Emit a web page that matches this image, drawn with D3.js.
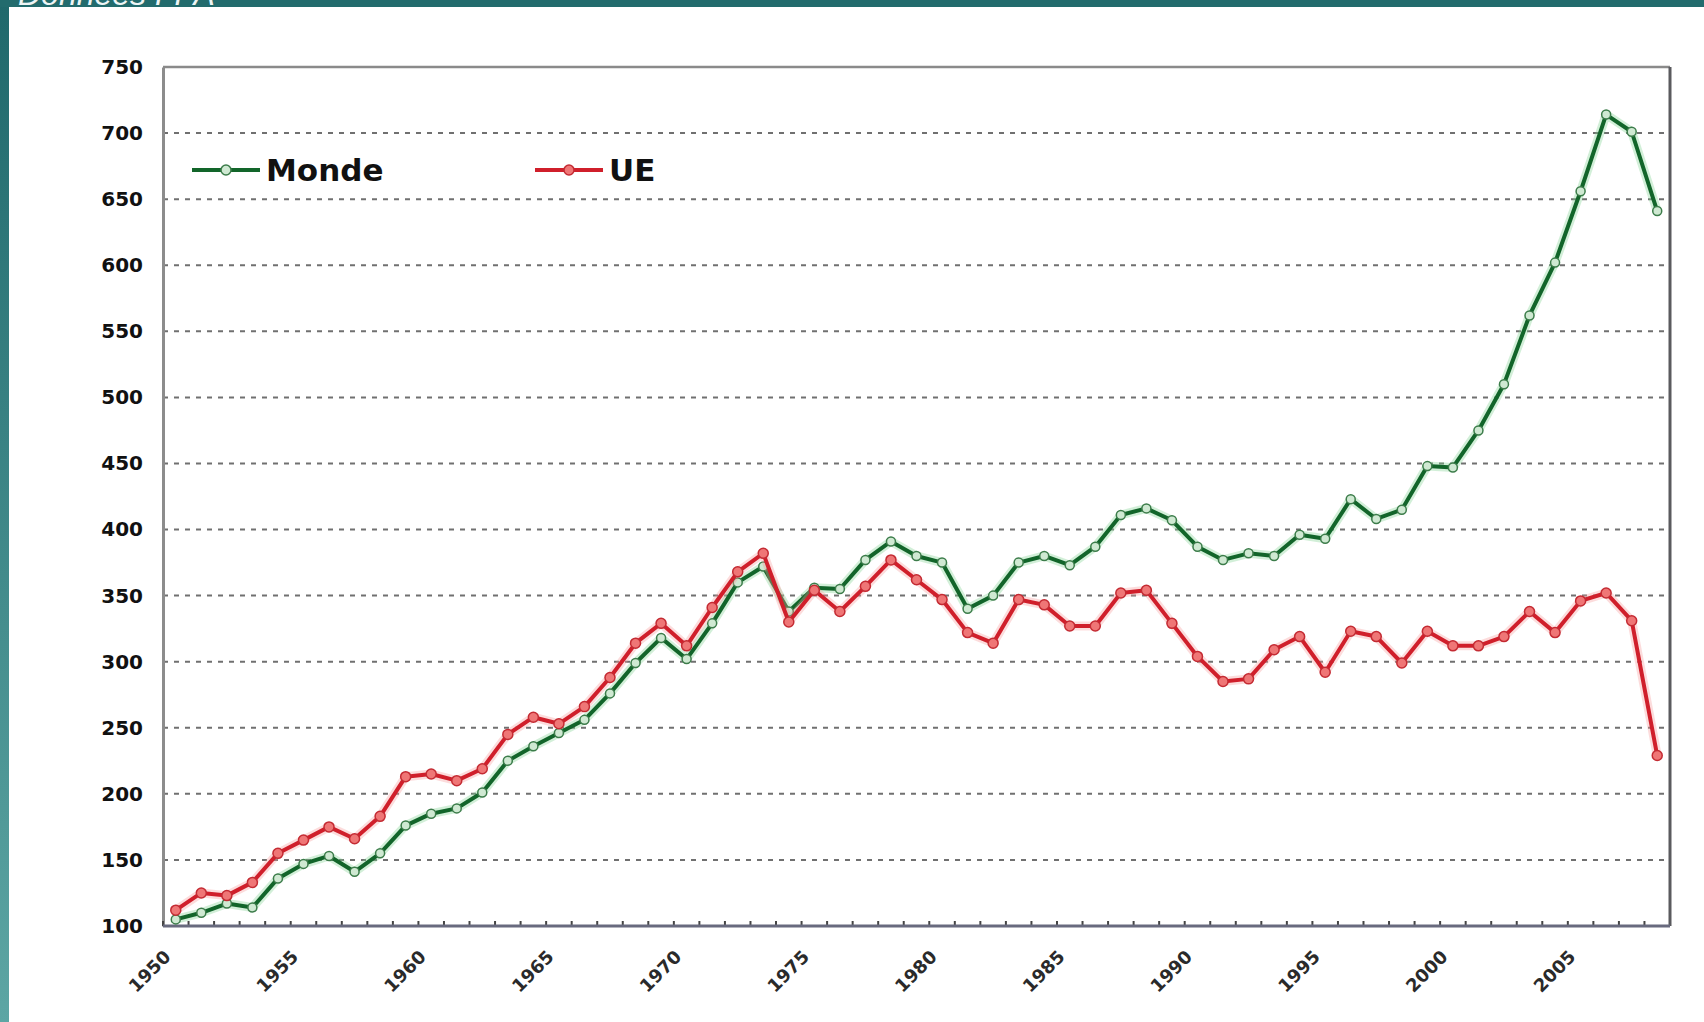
<!DOCTYPE html>
<html>
<head>
<meta charset="utf-8">
<script src="https://cdn.jsdelivr.net/npm/d3@7/dist/d3.min.js"></script>
<style>
    body { margin: 0; background: #ffffff; }
</style>
</head>
<body>
<div id="graphique"></div>
<script>
// Années (une catégorie par année)
var annees = [1950, 1951, 1952, 1953, 1954, 1955, 1956, 1957, 1958, 1959,
    1960, 1961, 1962, 1963, 1964, 1965, 1966, 1967, 1968, 1969,
    1970, 1971, 1972, 1973, 1974, 1975, 1976, 1977, 1978, 1979,
    1980, 1981, 1982, 1983, 1984, 1985, 1986, 1987, 1988, 1989,
    1990, 1991, 1992, 1993, 1994, 1995, 1996, 1997, 1998, 1999,
    2000, 2001, 2002, 2003, 2004, 2005, 2006, 2007, 2008];

// Indice Monde (base 100 en 1950)
var monde = [105, 110, 117, 114, 136, 147, 153, 141, 155, 176,
    185, 189, 201, 225, 236, 246, 256, 276, 299, 318,
    302, 329, 360, 372, 338, 356, 355, 377, 391, 380,
    375, 340, 350, 375, 380, 373, 387, 411, 416, 407,
    387, 377, 382, 380, 396, 393, 423, 408, 415, 448,
    447, 475, 510, 562, 602, 656, 714, 701, 641];

// Indice UE
var ue = [112, 125, 123, 133, 155, 165, 175, 166, 183, 213,
    215, 210, 219, 245, 258, 253, 266, 288, 314, 329,
    312, 341, 368, 382, 330, 354, 338, 357, 377, 362,
    347, 322, 314, 347, 343, 327, 327, 352, 354, 329,
    304, 285, 287, 309, 319, 292, 323, 319, 299, 323,
    312, 312, 319, 338, 322, 346, 352, 331, 229];

// Graduations
var ticksY = [100, 150, 200, 250, 300, 350, 400, 450, 500, 550, 600, 650, 700, 750];
var etiquettesX = [1950, 1955, 1960, 1965, 1970, 1975, 1980, 1985, 1990, 1995, 2000, 2005];

var width = 1704;
var height = 1022;
var margin = { top: 67, right: 34, bottom: 96, left: 163 };

var svg = d3.select("#graphique")
    .append("svg")
    .attr("width", width)
    .attr("height", height);

// Fond : bandeau sarcelle en haut et à gauche
var defs = svg.append("defs");
var grad = defs.append("linearGradient")
    .attr("id", "bandeGauche")
    .attr("x1", 0).attr("y1", 0).attr("x2", 0).attr("y2", 1);
grad.append("stop").attr("offset", "0%").attr("stop-color", "#1f686b");
grad.append("stop").attr("offset", "100%").attr("stop-color", "#5da6a4");

svg.append("rect")
    .attr("x", 0).attr("y", 0)
    .attr("width", width).attr("height", height)
    .attr("fill", "url(#bandeGauche)");

svg.append("rect")
    .attr("x", 0).attr("y", 0)
    .attr("width", width).attr("height", 7)
    .attr("fill", "#226b6d");

svg.append("rect")
    .attr("x", 9).attr("y", 7)
    .attr("width", width - 9).attr("height", height - 7)
    .attr("fill", "#ffffff");

// Titre coupé en haut
svg.append("text")
    .attr("x", 18)
    .attr("y", 5)
    .style("font-family", "'Liberation Sans', Arial, sans-serif")
    .style("font-style", "italic")
    .style("font-size", "32px")
    .style("fill", "#eef5f5")
    .text("Données FPA");

var x = d3.scaleBand()
    .domain(annees)
    .range([margin.left, width - margin.right])
    .padding(0);

var y = d3.scaleLinear()
    .domain([100, 750])
    .range([height - margin.bottom, margin.top]);

var x0 = margin.left;
var x1 = width - margin.right;

// Lignes de grille pointillées
svg.append("g")
    .selectAll("line")
    .data(ticksY.filter(function(d) { return d > 100 && d < 750; }))
    .enter()
    .append("line")
    .attr("x1", x0)
    .attr("x2", x1)
    .attr("y1", function(d) { return y(d); })
    .attr("y2", function(d) { return y(d); })
    .attr("stroke", "#707070")
    .attr("stroke-width", 2)
    .attr("stroke-dasharray", "5,6");

// Cadre du graphique
svg.append("line")
    .attr("x1", x0).attr("x2", x1)
    .attr("y1", y(750)).attr("y2", y(750))
    .attr("stroke", "#8a8a8a").attr("stroke-width", 2.5);
svg.append("line")
    .attr("x1", x1).attr("x2", x1)
    .attr("y1", y(750)).attr("y2", y(100))
    .attr("stroke", "#5a5a5e").attr("stroke-width", 3);

// Axe Y
svg.append("g")
    .attr("transform", "translate(" + x0 + ",0)")
    .call(d3.axisLeft(y).tickValues(ticksY).tickSize(0).tickPadding(20))
    .call(function(g) {
        g.select(".domain").attr("stroke", "#8c8c8c").attr("stroke-width", 3);
        g.selectAll("text")
            .style("font-family", "'DejaVu Sans', sans-serif")
            .style("font-weight", "bold")
            .style("font-size", "20px")
            .style("fill", "#111");
    });

// Axe X : petits traits entre les catégories
svg.append("g")
    .selectAll("line")
    .data(annees)
    .enter()
    .append("line")
    .attr("x1", function(d) { return x(d); })
    .attr("x2", function(d) { return x(d); })
    .attr("y1", y(100))
    .attr("y2", y(100) - 5)
    .attr("stroke", "#444")
    .attr("stroke-width", 2);

svg.append("line")
    .attr("x1", x0).attr("x2", x1)
    .attr("y1", y(100)).attr("y2", y(100))
    .attr("stroke", "#686a7e").attr("stroke-width", 3);

// Étiquettes des années (inclinées)
svg.append("g")
    .selectAll("text")
    .data(etiquettesX)
    .enter()
    .append("text")
    .attr("transform", function(d) {
        var px = x(d) + x.bandwidth() / 2 - 4;
        return "translate(" + px + "," + (y(100) + 32) + ") rotate(-45)";
    })
    .attr("text-anchor", "end")
    .style("font-family", "'DejaVu Sans', sans-serif")
    .style("font-weight", "bold")
    .style("font-size", "18px")
    .style("fill", "#2a2a2a")
    .text(function(d) { return d; });

// Fonction pour tracer une série avec ses marqueurs
function tracerSerie(valeurs, couleur, halo, remplissage, contour, rayon) {
    var points = annees.map(function(a, i) { return { annee: a, valeur: valeurs[i] }; });
    var ligne = d3.line()
        .x(function(d) { return x(d.annee) + x.bandwidth() / 2; })
        .y(function(d) { return y(d.valeur); });

    svg.append("path")
        .datum(points)
        .attr("d", ligne)
        .attr("fill", "none")
        .attr("stroke", halo)
        .attr("stroke-width", 9)
        .attr("stroke-linejoin", "round")
        .attr("opacity", 0.35);

    svg.append("path")
        .datum(points)
        .attr("d", ligne)
        .attr("fill", "none")
        .attr("stroke", couleur)
        .attr("stroke-width", 4)
        .attr("stroke-linejoin", "round");

    svg.append("g")
        .selectAll("circle")
        .data(points)
        .enter()
        .append("circle")
        .attr("cx", function(d) { return x(d.annee) + x.bandwidth() / 2; })
        .attr("cy", function(d) { return y(d.valeur); })
        .attr("r", rayon)
        .attr("fill", remplissage)
        .attr("stroke", contour)
        .attr("stroke-width", 1.5);
}

tracerSerie(monde, "#12652a", "#7fd08f", "#cfe9d2", "#3c7c4a", 4.5);
tracerSerie(ue, "#d01f2b", "#f59a9a", "#ef7676", "#c42b33", 5);

// Légende
var legende = [
    { nom: "Monde", x: 192, couleur: "#12652a", remplissage: "#cfe9d2", contour: "#3c7c4a" },
    { nom: "UE", x: 535, couleur: "#d01f2b", remplissage: "#ef7676", contour: "#c42b33" }
];
var yLeg = 170;

legende.forEach(function(l) {
    svg.append("line")
        .attr("x1", l.x).attr("x2", l.x + 68)
        .attr("y1", yLeg).attr("y2", yLeg)
        .attr("stroke", l.couleur).attr("stroke-width", 4);
    svg.append("circle")
        .attr("cx", l.x + 34).attr("cy", yLeg)
        .attr("r", 5)
        .attr("fill", l.remplissage)
        .attr("stroke", l.contour)
        .attr("stroke-width", 1.5);
    svg.append("text")
        .attr("x", l.x + 74)
        .attr("y", yLeg + 11)
        .style("font-family", "'DejaVu Sans', sans-serif")
        .style("font-weight", "bold")
        .style("font-size", "31px")
        .style("fill", "#111")
        .text(l.nom);
});
</script>
</body>
</html>
